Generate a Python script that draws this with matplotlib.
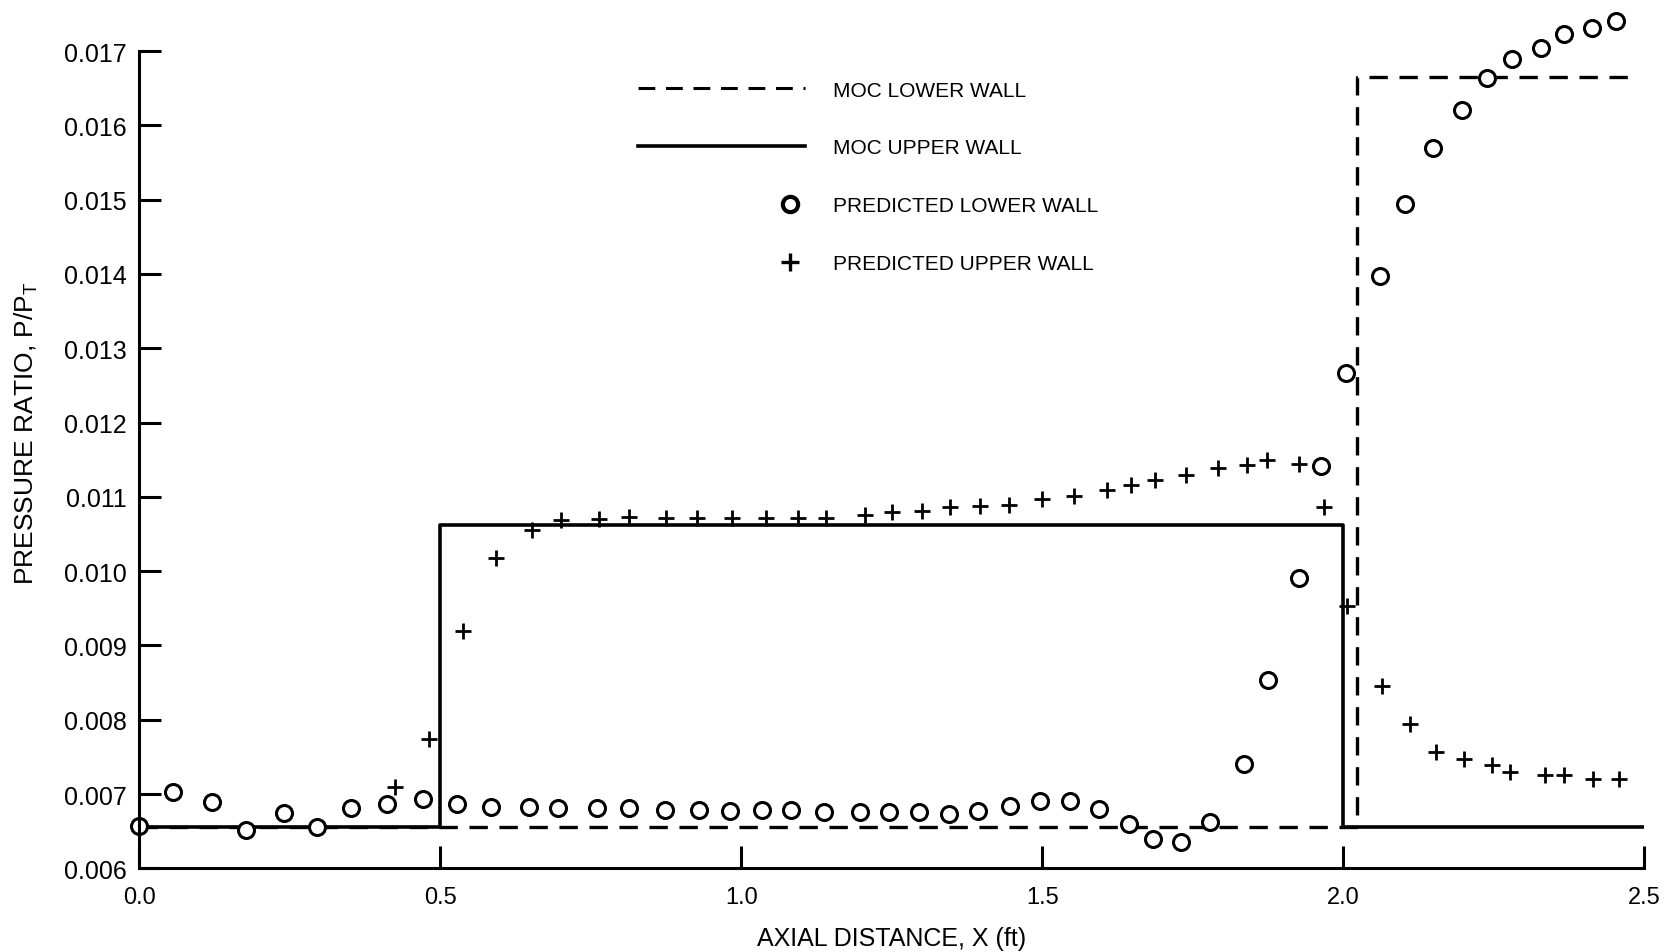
import numpy as np
import matplotlib
matplotlib.use("Agg")
import matplotlib.pyplot as plt
from matplotlib.lines import Line2D
from matplotlib.legend_handler import HandlerLine2D

plt.rcParams['font.family'] = ['Liberation Sans', 'DejaVu Sans']

# MOC step curves
moc_lower_x = [0.0, 2.023, 2.023, 2.475]
moc_lower_y = [0.00655, 0.00655, 0.01665, 0.01665]
moc_upper_x = [0.0, 0.5, 0.5, 2.0, 2.0, 2.5]
moc_upper_y = [0.00655, 0.00655, 0.01062, 0.01062, 0.00655, 0.00655]

# predicted lower wall (circles)
low_x = [0.0, 0.056, 0.120, 0.178, 0.240, 0.295, 0.352, 0.412, 0.472, 0.528,
         0.585, 0.648, 0.696, 0.761, 0.813, 0.873, 0.929, 0.981, 1.034, 1.083,
         1.138, 1.198, 1.246, 1.295, 1.345, 1.394, 1.447, 1.496, 1.546, 1.595,
         1.645, 1.684, 1.731, 1.779, 1.836, 1.875, 1.926, 1.963, 2.004, 2.062,
         2.102, 2.150, 2.198, 2.239, 2.281, 2.329, 2.367, 2.413, 2.454]
low_y = [0.00657, 0.00703, 0.00689, 0.00651, 0.00674, 0.00656, 0.00681, 0.00686, 0.00693, 0.00686,
         0.00683, 0.00683, 0.00681, 0.00681, 0.00681, 0.00679, 0.00679, 0.00677, 0.00679, 0.00678,
         0.00676, 0.00676, 0.00676, 0.00676, 0.00673, 0.00677, 0.00684, 0.00690, 0.00690, 0.00680,
         0.00660, 0.00640, 0.00636, 0.00663, 0.00741, 0.00854, 0.00991, 0.01141, 0.01266, 0.01397,
         0.01494, 0.01569, 0.01621, 0.01664, 0.01689, 0.01704, 0.01723, 0.01731, 0.01741]

# predicted upper wall (plus)
up_x = [0.424, 0.481, 0.537, 0.592, 0.652, 0.701, 0.763, 0.813, 0.875, 0.926,
        0.984, 1.041, 1.095, 1.140, 1.205, 1.251, 1.300, 1.346, 1.396, 1.445,
        1.500, 1.553, 1.608, 1.647, 1.687, 1.739, 1.792, 1.841, 1.873, 1.926,
        1.968, 2.007, 2.065, 2.111, 2.154, 2.201, 2.247, 2.277, 2.336, 2.367,
        2.415, 2.459]
up_y = [0.00710, 0.00774, 0.00920, 0.01017, 0.01056, 0.01069, 0.01070, 0.01073, 0.01072, 0.01071,
        0.01071, 0.01072, 0.01072, 0.01072, 0.01076, 0.01079, 0.01081, 0.01086, 0.01087, 0.01089,
        0.01097, 0.01101, 0.01109, 0.01116, 0.01123, 0.01130, 0.01139, 0.01143, 0.01150, 0.01144,
        0.01086, 0.00953, 0.00846, 0.00794, 0.00757, 0.00747, 0.00739, 0.00729, 0.00726, 0.00726,
        0.00720, 0.00720]

x_ticks = [0.0, 0.5, 1.0, 1.5, 2.0, 2.5]
x_ticklabels = ['0.0', '0.5', '1.0', '1.5', '2.0', '2.5']
y_ticks = [0.006, 0.007, 0.008, 0.009, 0.010, 0.011, 0.012, 0.013, 0.014, 0.015, 0.016, 0.017]
y_ticklabels = ['%.3f' % v for v in y_ticks]


class RightMarker(HandlerLine2D):
    # with numpoints=1 the marker sits mid-way between the two x values,
    # so shift the pair to put it near the right end of the handle
    def get_xdata(self, legend, xdescent, ydescent, width, height, fontsize):
        xdata = np.array([-xdescent + 0.82 * width, -xdescent + width])
        return xdata, np.array([-xdescent + 0.91 * width])


fig = plt.figure(figsize=(16.71, 9.53), dpi=100)
ax = fig.add_axes([0.0834, 0.0878, 0.9005, 0.8966])

ax.plot(moc_lower_x, moc_lower_y, color='black', lw=2.4, dashes=(5.5, 3.5))
ax.plot(moc_upper_x, moc_upper_y, color='black', lw=2.6)
ax.plot(low_x, low_y, 'o', ms=11.5, mfc='white', mec='black', mew=2.2, clip_on=False)
ax.plot(up_x, up_y, '+', ms=12, mec='black', mew=2.0, clip_on=False)

ax.set_xlim(0, 2.5)
ax.set_ylim(0.006, 0.0175)
ax.spines['top'].set_visible(False)
ax.spines['right'].set_visible(False)
for s in ['left', 'bottom']:
    ax.spines[s].set_linewidth(2.2)
ax.spines['left'].set_bounds(0.006, 0.017)

ax.set_xticks(x_ticks)
ax.set_xticklabels(x_ticklabels)
ax.set_yticks(y_ticks)
ax.set_yticklabels(y_ticklabels)
ax.tick_params(axis='both', direction='in', length=16, width=2.2)
ax.tick_params(axis='x', labelsize=17, pad=13)
ax.tick_params(axis='y', labelsize=18, pad=9)

ax.set_xlabel('AXIAL DISTANCE, X (ft)', fontsize=18)
ax.xaxis.set_label_coords(0.5, -0.067)
ax.set_ylabel('PRESSURE RATIO, P/P$_{\\mathregular{T}}$', fontsize=19)
ax.yaxis.set_label_coords(-0.066, 0.51)

handles = [
    Line2D([], [], color='black', lw=2.2, dashes=(5.5, 3.5)),
    Line2D([], [], color='black', lw=2.6),
    Line2D([], [], ls='none', marker='o', ms=11, mfc='white', mec='black', mew=3.0),
    Line2D([], [], ls='none', marker='+', ms=13, mec='black', mew=2.4),
]
labels = ['MOC LOWER WALL', 'MOC UPPER WALL', 'PREDICTED LOWER WALL', 'PREDICTED UPPER WALL']
ax.legend(handles, labels, loc='upper left', bbox_to_anchor=(0.3314, 0.922),
          frameon=False, fontsize=15, handlelength=8.0, handletextpad=1.34,
          labelspacing=1.87, borderpad=0, borderaxespad=0, numpoints=1,
          handler_map={handles[2]: RightMarker(), handles[3]: RightMarker()})

fig.savefig('out.png', dpi=100)
